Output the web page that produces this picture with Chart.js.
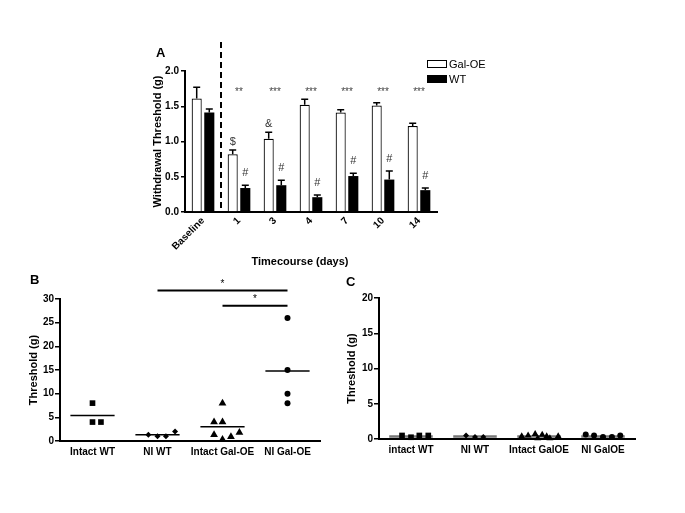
<!DOCTYPE html>
<html lang="en">
<head>
  <meta charset="UTF-8" />
  <title>Withdrawal threshold</title>
  <script src="https://cdn.jsdelivr.net/npm/chart.js"></script>
  <style>
    body {
      margin: 0;
      background: #fff;
      font-family: 'Liberation Sans', Arial, sans-serif;
    }
    #page {
      position: relative;
      width: 685px;
      height: 513px;
      overflow: hidden;
      background: #fff;
    }
    canvas { position: absolute; }
    .letter {
      position: absolute;
      font-weight: bold;
      font-size: 13px;
    }
    .xtitle {
      position: absolute;
      font-weight: bold;
      font-size: 11px;
      text-align: center;
    }
    .legend {
      position: absolute;
      left: 427px;
      top: 57px;
      font-size: 11px;
      line-height: 15px;
    }
    .legend span.sw {
      display: inline-block;
      width: 18px;
      height: 6px;
      border: 1px solid #000;
      margin-right: 2px;
      vertical-align: middle;
      position: relative;
      top: -1px;
    }
  </style>
</head>
<body>
  <div id="page">
    <canvas id="chartA" width="380" height="250" style="left:140px; top:30px"></canvas>
    <canvas id="chartB" width="340" height="200" style="left:0px; top:270px"></canvas>
    <canvas id="chartC" width="355" height="200" style="left:330px; top:270px"></canvas>

    <div class="letter" style="left:156px; top:45px">A</div>
    <div class="letter" style="left:30px; top:272px">B</div>
    <div class="letter" style="left:346px; top:274px">C</div>
    <div class="xtitle" style="left:240px; top:255px; width:120px">Timecourse (days)</div>
    <div class="legend">
      <div><span class="sw" style="background:#fff"></span>Gal-OE</div>
      <div><span class="sw" style="background:#000"></span>WT</div>
    </div>
  </div>

  <script>
    // ---- panel A: time course ----
    const daysA = ['Baseline', '1', '3', '4', '7', '10', '14']
    const galOE = [1.61, 0.82, 1.04, 1.52, 1.41, 1.51, 1.22]
    const galOEErr = [0.16, 0.06, 0.09, 0.08, 0.04, 0.04, 0.04]
    const wt = [1.41, 0.34, 0.38, 0.21, 0.51, 0.46, 0.31]
    const wtErr = [0.05, 0.04, 0.07, 0.03, 0.04, 0.12, 0.03]
    const starsA = ['', '**', '***', '***', '***', '***', '***']
    const galMarks = ['', '$', '&', '', '', '', '']
    const wtMarks = ['', '#', '#', '#', '#', '#', '#']
    const starLevelA = 1.73

    // ---- panel B ----
    const groupsB = ['Intact WT', 'NI WT', 'Intact Gal-OE', 'NI Gal-OE']
    const bIntactWT = [8, 4, 4]
    const bIntactWTJit = [0, 0, 0.13]
    const bNiWT = [1.3, 1.0, 1.0, 2.0]
    const bNiWTJit = [-0.14, 0, 0.13, 0.27]
    const bIntactGal = [8, 4, 4, 1.3, 0.3, 0.9, 1.8]
    const bIntactGalJit = [0, -0.13, 0, -0.13, 0, 0.13, 0.26]
    const bNiGal = [26, 15, 10, 8]
    const bNiGalJit = [0, 0, 0, 0]
    const bMedians = [5.4, 1.3, 3.0, 14.8]
    const bSig = [
      { from: 2, to: 4, level: 31.8, label: '*' },
      { from: 3, to: 4, level: 28.6, label: '*' }
    ]

    // ---- panel C ----
    const groupsC = ['intact WT', 'NI WT', 'Intact GalOE', 'NI GalOE']
    const cIntactWT = [0.5, 0.25, 0.5, 0.5]
    const cIntactWTJit = [-0.14, 0, 0.13, 0.27]
    const cNiWT = [0.5, 0.3, 0.3]
    const cNiWTJit = [-0.14, 0, 0.13]
    const cIntactGal = [0.4, 0.5, 0.7, 0.1, 0.6, 0.4, 0.1, 0.4]
    const cIntactGalJit = [-0.27, -0.17, -0.06, -0.02, 0.05, 0.12, 0.17, 0.3]
    const cNiGal = [0.65, 0.5, 0.3, 0.3, 0.5]
    const cNiGalJit = [-0.27, -0.14, 0, 0.14, 0.27]
    const cMedians = [0.35, 0.35, 0.35, 0.35]

    const FONT = "'Liberation Sans', Arial, sans-serif"
    Chart.defaults.font.family = FONT
    Chart.defaults.color = '#000'

    const annotA = {
      id: 'annotA',
      afterDatasetsDraw(chart) {
        const { ctx, chartArea } = chart
        const x = chart.scales.x, y = chart.scales.y
        ctx.save()
        // dashed separator between baseline and post-op days
        const sepX = (x.getPixelForValue(0) + x.getPixelForValue(1)) / 2
        ctx.strokeStyle = '#000'
        ctx.lineWidth = 2
        ctx.setLineDash([6, 4])
        ctx.beginPath()
        ctx.moveTo(sepX, chartArea.top - 29)
        ctx.lineTo(sepX, chartArea.bottom)
        ctx.stroke()
        ctx.setLineDash([])

        // error bars + marks
        ctx.textAlign = 'center'
        ctx.textBaseline = 'middle'
        ctx.font = `11px ${FONT}`
        ctx.fillStyle = '#333'
        const sets = [[galOE, galOEErr, galMarks, 8], [wt, wtErr, wtMarks, 12]]
        sets.forEach(([vals, errs, marks, gap], di) => {
          chart.getDatasetMeta(di).data.forEach((bar, i) => {
            const top = y.getPixelForValue(vals[i] + errs[i])
            ctx.lineWidth = 1.5
            ctx.beginPath()
            ctx.moveTo(bar.x, bar.y)
            ctx.lineTo(bar.x, top)
            ctx.moveTo(bar.x - 3.5, top)
            ctx.lineTo(bar.x + 3.5, top)
            ctx.stroke()
            if (marks[i]) ctx.fillText(marks[i], bar.x, top - gap)
          })
        })

        // significance stars
        ctx.font = `10px ${FONT}`
        ctx.fillStyle = '#444'
        starsA.forEach((s, i) => {
          if (s) ctx.fillText(s, x.getPixelForValue(i), y.getPixelForValue(starLevelA) + 2)
        })
        ctx.restore()
      }
    }

    new Chart(document.getElementById('chartA'), {
      type: 'bar',
      data: {
        labels: daysA,
        datasets: [
          { label: 'Gal-OE', data: galOE, backgroundColor: '#fff', borderColor: '#000', borderWidth: 1.2 },
          { label: 'WT', data: wt, backgroundColor: '#000', borderColor: '#000', borderWidth: 0 }
        ]
      },
      options: {
        responsive: false,
        animation: false,
        categoryPercentage: 0.7,
        barPercentage: 0.8,
        layout: { padding: { top: 41, right: 83, left: 0, bottom: 0 } },
        plugins: { legend: { display: false }, tooltip: { enabled: false } },
        scales: {
          x: {
            grid: { display: false, tickLength: 0 },
            border: { color: '#000', width: 2 },
            ticks: { font: { size: 10, weight: 'bold' }, minRotation: 45, maxRotation: 45, padding: 3 },
            afterFit: s => { s.height = 68 }
          },
          y: {
            min: 0, max: 2,
            grid: { drawOnChartArea: false, color: '#000', tickLength: 4, lineWidth: 1.5 },
            border: { color: '#000', width: 2 },
            ticks: { stepSize: 0.5, padding: 2, font: { size: 10, weight: 'bold' }, callback: v => v.toFixed(1) },
            title: { display: true, text: 'Withdrawal Threshold (g)', font: { size: 11, weight: 'bold' }, padding: { top: 11, bottom: 0 } },
            afterFit: s => { s.width = 45 }
          }
        }
      },
      plugins: [annotA]
    })

    // scatter panels
    function dotSet(vals, jit, group, style, radius) {
      return {
        type: 'scatter',
        data: vals.map((v, i) => ({ x: group + jit[i], y: v })),
        pointStyle: style,
        pointRadius: radius,
        backgroundColor: '#000',
        borderColor: '#000',
        borderWidth: 0,
        clip: false
      }
    }

    function medianSets(medians, color, width) {
      return medians.map((m, i) => ({
        type: 'line',
        data: [{ x: i + 1 - 0.34, y: m }, { x: i + 1 + 0.34, y: m }],
        borderColor: color,
        borderWidth: width,
        pointRadius: 0,
        clip: false
      }))
    }

    function dotChart(id, groups, dots, medians, yMax, pad, yWidth, xHeight, titlePad, medColor, medWidth, extra) {
      return new Chart(document.getElementById(id), {
        type: 'scatter',
        data: { datasets: [...dots, ...medianSets(medians, medColor, medWidth)] },
        options: {
          responsive: false,
          animation: false,
          layout: { padding: pad },
          plugins: { legend: { display: false }, tooltip: { enabled: false } },
          scales: {
            x: {
              type: 'linear', min: 0.5, max: 4.5,
              grid: { display: false, tickLength: 0 },
              border: { color: '#000', width: 2 },
              afterBuildTicks: s => { s.ticks = groups.map((_, i) => ({ value: i + 1 })) },
              ticks: { callback: v => groups[v - 1], font: { size: 10, weight: 'bold' }, maxRotation: 0, autoSkip: false, padding: 5 },
              afterFit: s => { s.height = xHeight }
            },
            y: {
              min: 0, max: yMax,
              grid: { drawOnChartArea: false, color: '#000', tickLength: 5, lineWidth: 1.5 },
              border: { color: '#000', width: 2 },
              ticks: { stepSize: 5, padding: 1, font: { size: 10, weight: 'bold' } },
              title: { display: true, text: 'Threshold (g)', font: { size: 11, weight: 'bold' }, padding: { top: titlePad, bottom: 0 } },
              afterFit: s => { s.width = yWidth }
            }
          }
        },
        plugins: extra ? [extra] : []
      })
    }

    const sigB = {
      id: 'sigB',
      afterDatasetsDraw(chart) {
        const { ctx } = chart
        const x = chart.scales.x, y = chart.scales.y
        ctx.save()
        ctx.strokeStyle = '#000'
        ctx.fillStyle = '#000'
        ctx.lineWidth = 2
        ctx.font = `10px ${FONT}`
        ctx.textAlign = 'center'
        ctx.textBaseline = 'bottom'
        bSig.forEach(b => {
          const py = y.getPixelForValue(b.level)
          const x0 = x.getPixelForValue(b.from), x1 = x.getPixelForValue(b.to)
          ctx.beginPath()
          ctx.moveTo(x0, py)
          ctx.lineTo(x1, py)
          ctx.stroke()
          ctx.fillText(b.label, (x0 + x1) / 2, py - 1)
        })
        ctx.restore()
      }
    }

    dotChart('chartB', groupsB, [
      dotSet(bIntactWT, bIntactWTJit, 1, 'rect', 4),
      dotSet(bNiWT, bNiWTJit, 2, 'rectRot', 3),
      dotSet(bIntactGal, bIntactGalJit, 3, 'triangle', 4.5),
      dotSet(bNiGal, bNiGalJit, 4, 'circle', 3)
    ], bMedians, 30, { top: 29, right: 20, left: 0, bottom: 0 }, 60, 29, 27, '#000', 1.5, sigB)

    dotChart('chartC', groupsC, [
      dotSet(cIntactWT, cIntactWTJit, 1, 'rect', 4),
      dotSet(cNiWT, cNiWTJit, 2, 'rectRot', 3),
      dotSet(cIntactGal, cIntactGalJit, 3, 'triangle', 4),
      dotSet(cNiGal, cNiGalJit, 4, 'circle', 3)
    ], cMedians, 20, { top: 28, right: 50, left: 0, bottom: 0 }, 49, 31, 15, '#777', 2.5, null)
  </script>
</body>
</html>
